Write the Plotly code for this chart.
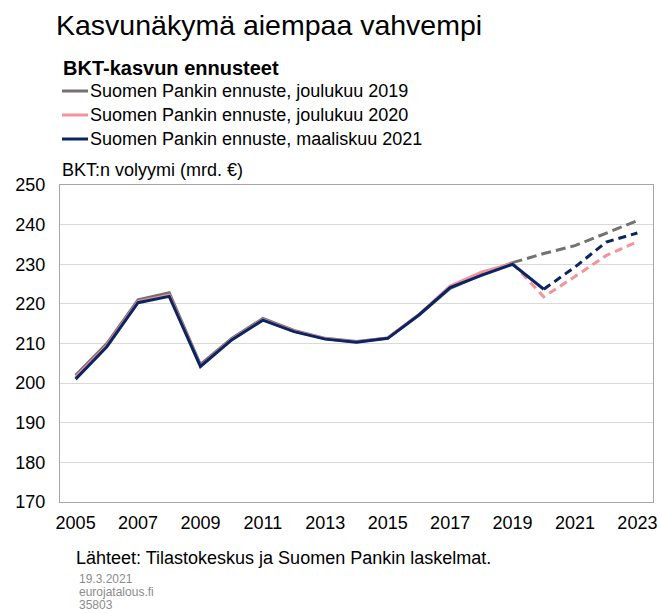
import plotly.graph_objects as go

years = list(range(2005, 2024))
ennuste_2019_12 = [202.0, 210.0, 221.0, 222.8, 204.7, 211.3, 216.3, 213.3, 211.3, 210.5,
                   211.4, 217.2, 223.9, 227.4, 230.4, 232.7, 234.7, 237.8, 241.0]
ennuste_2020_12 = [201.5, 209.5, 220.6, 222.2, 204.3, 211.0, 216.0, 213.1, 211.2, 210.4,
                   211.4, 217.3, 224.5, 228.0, 230.2, 221.8, 226.9, 232.2, 235.7]
ennuste_2021_03 = [201.0, 209.2, 220.3, 221.9, 204.2, 210.9, 215.9, 213.0, 211.1, 210.3,
                   211.3, 217.2, 224.1, 227.2, 230.0, 223.7, 229.3, 235.6, 237.9]
names = ["Suomen Pankin ennuste, joulukuu 2019",
         "Suomen Pankin ennuste, joulukuu 2020",
         "Suomen Pankin ennuste, maaliskuu 2021"]
last_actual_year = [2019, 2019, 2020]
colors = ["#767171", "#F4939A", "#0B2464"]
dashes = ["10px,5px", "8px,5px", "8px,5px"]
y_ticks = list(range(170, 251, 10))
x_ticks = list(range(2005, 2024, 2))

W, H = 659, 613
L, R, T, B = 60, 6, 185, 111
PW, PH = W - L - R, H - T - B


def px_x(px):
    return (px - L) / PW


def px_y(py):
    return (H - B - py) / PH


FONT = "Liberation Sans, Arial, sans-serif"
fig = go.Figure()
series = [ennuste_2019_12, ennuste_2020_12, ennuste_2021_03]
for vals, name, last, col, dsh in zip(series, names, last_actual_year, colors, dashes):
    k = years.index(last) + 1
    fig.add_trace(go.Scatter(x=years[:k], y=vals[:k], mode="lines", name=name,
                             line=dict(color=col, width=3), legendgroup=name,
                             showlegend=False))
    fig.add_trace(go.Scatter(x=years[k-1:], y=vals[k-1:], mode="lines", name=name,
                             line=dict(color=col, width=3, dash=dsh),
                             legendgroup=name, showlegend=False))

fig.update_layout(
    width=W, height=H,
    margin=dict(l=L, r=R, t=T, b=B, autoexpand=False),
    paper_bgcolor="white", plot_bgcolor="white",
    font=dict(family=FONT, size=18, color="#000000"),
    title=dict(text="Kasvunäkymä aiempaa vahvempi", font=dict(size=28.5, color="#000"),
               x=56/W, xanchor="left", xref="container",
               y=1-25/H, yanchor="middle", yref="container"),
    showlegend=False,
    xaxis=dict(range=[2004.5, 2023.5], tickvals=x_ticks, showgrid=False,
               showline=True, linecolor="#A6A6A6", mirror=True, ticks="",
               tickfont=dict(size=18), zeroline=False, tickangle=0,
               ticklabelstandoff=4),
    yaxis=dict(range=[170, 250], tickvals=y_ticks, showgrid=True, gridcolor="#D9D9D9",
               showline=True, linecolor="#A6A6A6", mirror=True, ticks="",
               tickfont=dict(size=18), zeroline=False, ticklabelstandoff=10),
)

# legend (drawn manually to match spacing)
fig.add_annotation(text="<b>BKT-kasvun ennusteet</b>", xref="paper", yref="paper",
                   x=px_x(61), y=px_y(68), xanchor="left", yanchor="middle",
                   showarrow=False, font=dict(size=20))
for i, (name, col) in enumerate(zip(names, colors)):
    yy = px_y(91 + 24 * i)
    fig.add_shape(type="line", xref="paper", yref="paper", x0=px_x(62), x1=px_x(88),
                  y0=yy, y1=yy, line=dict(color=col, width=3))
    fig.add_annotation(text=name, xref="paper", yref="paper", x=px_x(88), y=yy,
                       xanchor="left", yanchor="middle", showarrow=False,
                       font=dict(size=18))

fig.add_annotation(text="BKT:n volyymi (mrd. €)", xref="paper", yref="paper",
                   x=px_x(60), y=px_y(170), xanchor="left", yanchor="middle",
                   showarrow=False, font=dict(size=18))
fig.add_annotation(text="Lähteet: Tilastokeskus ja Suomen Pankin laskelmat.",
                   xref="paper", yref="paper", x=px_x(74), y=px_y(558),
                   xanchor="left", yanchor="middle", showarrow=False, font=dict(size=18))
for i, t in enumerate(["19.3.2021", "eurojatalous.fi", "35803"]):
    fig.add_annotation(text=t, xref="paper", yref="paper",
                       x=px_x(77), y=px_y(579 + 13 * i), xanchor="left", yanchor="middle",
                       showarrow=False, font=dict(size=12, color="#8C8C8C"))

fig.write_html("out.html", config={"displayModeBar": False},
               post_script="document.body.style.margin='0';document.body.style.overflow='hidden';")
